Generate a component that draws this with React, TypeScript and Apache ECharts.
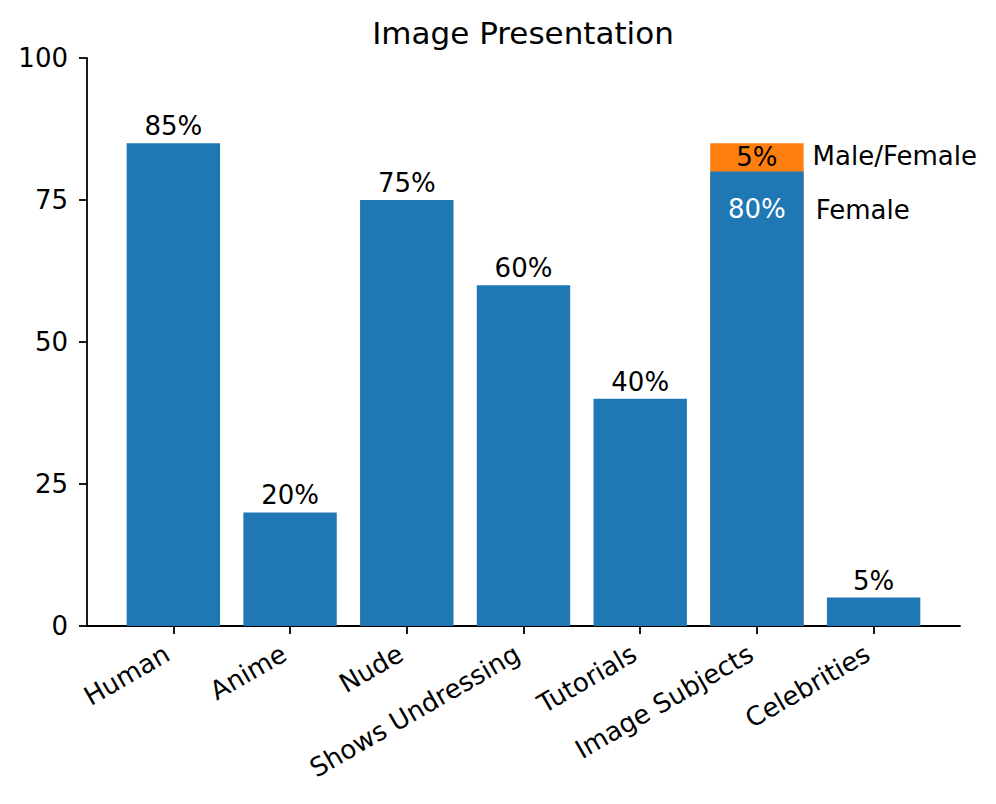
import React, { useEffect, useRef } from "react";
import * as echarts from "echarts";

const categories = ["Human", "Anime", "Nude", "Shows Undressing", "Tutorials", "Image Subjects", "Celebrities"];
const mainValues = [85, 20, 75, 60, 40, 80, 5];
const topValues: (number | null)[] = [null, null, null, null, null, 5, null];
const annotationTexts = ["Male/Female", "Female"];
const annotationPoints: [number, number][] = [[5.477, 82.75], [5.503, 73.2]];
const yTicks = [0, 25, 50, 75, 100];

const FONT = "DejaVu Sans";
const BLUE = "#1f77b4";
const ORANGE = "#ff7f0e";
const FS = 26;

export default function App() {
  const ref = useRef<HTMLDivElement>(null);
  useEffect(() => {
    if (!ref.current) return;
    const chart = echarts.init(ref.current, null, { renderer: "svg" });
    const idx = categories.map((_, i) => i);
    chart.setOption({
      animation: false,
      backgroundColor: "#fff",
      textStyle: { fontFamily: FONT },
      title: {
        text: "Image Presentation",
        left: 518,
        top: 12,
        textAlign: "center",
        textStyle: { fontFamily: FONT, fontSize: 31, fontWeight: "normal", color: "#000" },
      },
      grid: { left: 87, right: 36, top: 58, bottom: 178, containLabel: false },
      xAxis: {
        type: "value",
        min: -0.74,
        max: 6.74,
        splitLine: { show: false },
        axisLine: { show: true, onZero: false, lineStyle: { color: "#000", width: 1.8 } },
        axisTick: { show: true, customValues: idx, length: 8, lineStyle: { color: "#000", width: 1.8 } },
        axisLabel: {
          show: true,
          customValues: idx,
          rotate: 30,
          margin: 22,
          padding: [0, 7, 0, 0],
          fontFamily: FONT,
          fontSize: FS,
          color: "#000",
          formatter: (v: number) => categories[Math.round(v)] ?? "",
        },
      },
      yAxis: {
        type: "value",
        min: 0,
        max: 100,
        interval: 25,
        splitLine: { show: false },
        axisLine: { show: true, onZero: false, lineStyle: { color: "#000", width: 1.8 } },
        axisTick: { show: true, length: 8, lineStyle: { color: "#000", width: 1.8 } },
        axisLabel: {
          margin: 19,
          fontFamily: FONT,
          fontSize: FS,
          color: "#000",
          formatter: (v: number) => (yTicks.includes(v) ? String(v) : ""),
        },
      },
      series: [
        {
          // upper segment: drawn from the top of the lower segment (total height), behind it
          type: "bar",
          barWidth: 93.4,
          barGap: "-100%",
          z: 1,
          itemStyle: { color: ORANGE },
          label: {
            show: true,
            position: "insideTop",
            distance: 1,
            fontFamily: FONT,
            fontSize: FS,
            color: "#000",
            formatter: (p: any) => `${topValues[p.dataIndex]}%`,
          },
          data: topValues.map((v, i) => [i, v == null ? "-" : mainValues[i] + v]),
        },
        {
          type: "bar",
          barWidth: 93.4,
          barGap: "-100%",
          z: 2,
          itemStyle: { color: BLUE },
          label: {
            show: true,
            position: "top",
            distance: 4,
            fontFamily: FONT,
            fontSize: FS,
            color: "#000",
            formatter: (p: any) => `${p.value[1]}%`,
          },
          data: mainValues.map((v, i) =>
            topValues[i] != null
              ? { value: [i, v], label: { position: "insideTop", distance: 24, color: "#fff" } }
              : { value: [i, v] }
          ),
        },
        {
          type: "scatter",
          symbolSize: 0,
          silent: true,
          itemStyle: { opacity: 1 },
          label: {
            show: true,
            position: "right",
            distance: 0,
            fontFamily: FONT,
            fontSize: FS,
            color: "#000",
            opacity: 1,
            formatter: (p: any) => annotationTexts[p.dataIndex],
          },
          data: annotationPoints,
        },
      ],
    });
    return () => chart.dispose();
  }, []);
  return (
    <div
      ref={ref}
      style={{ position: "fixed", left: 0, top: 0, width: 996, height: 804, background: "#fff" }}
    />
  );
}
